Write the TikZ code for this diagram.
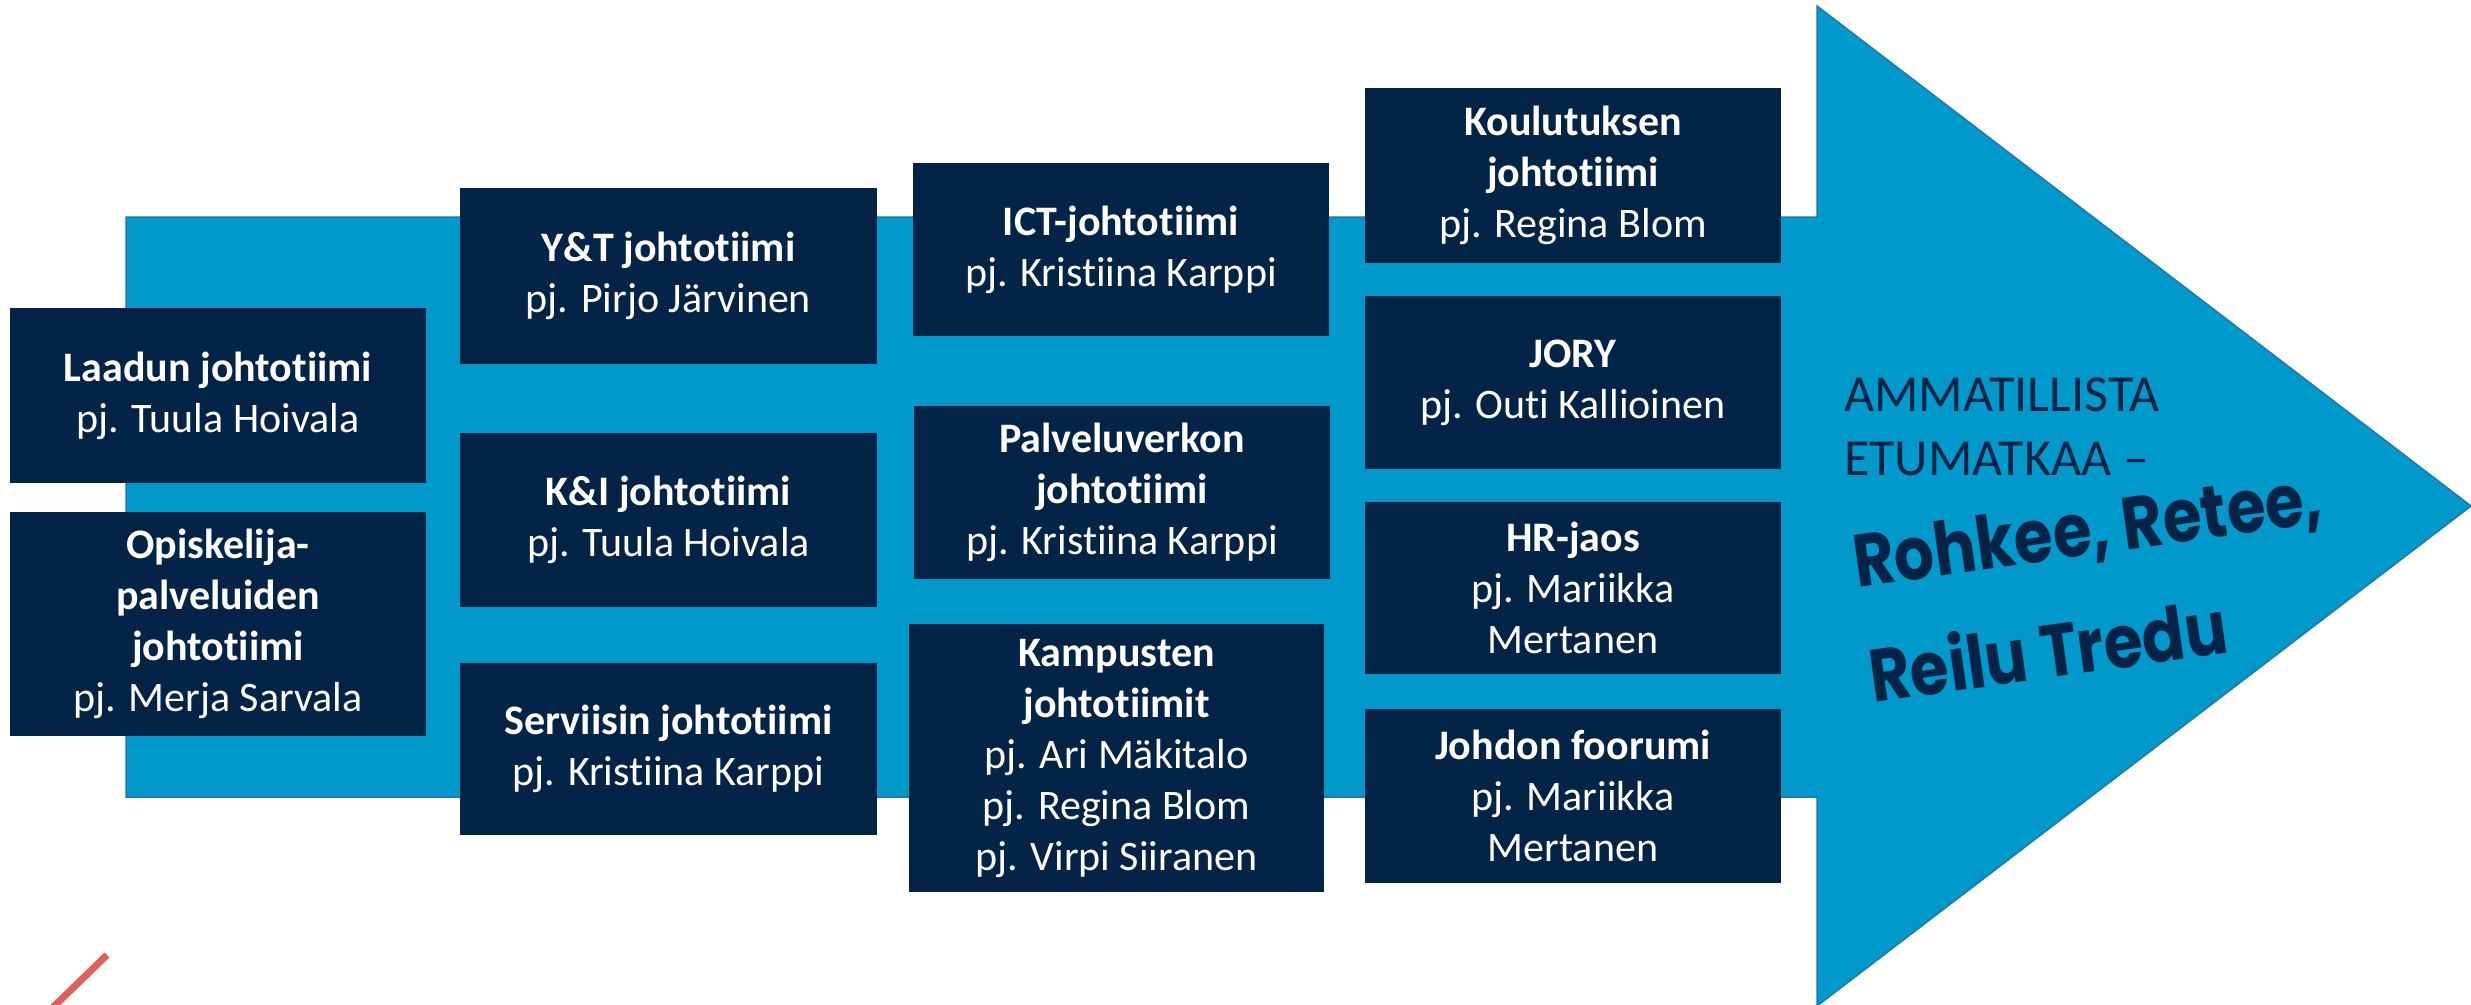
\documentclass[tikz,border=0pt]{standalone}
\usepackage{fontspec}
\setmainfont{Carlito}[Ligatures=CommonOff]
\newfontfamily\handfont{Poppins}[FakeStretch=0.85]
\definecolor{navy}{RGB}{3,36,70}
\definecolor{arrowblue}{RGB}{0,153,204}
\definecolor{arrowedge}{RGB}{30,120,170}
\definecolor{redline}{RGB}{222,98,90}
\tikzset{
  teambox/.style={fill=navy, text=white, align=center, inner sep=0pt,
    font=\fontsize{42}{51}\selectfont},
  slogan/.style={text=navy, inner sep=0pt, font=\fontsize{52}{64}\selectfont},
  handtext/.style={text=navy, inner sep=0pt, rotate=8, font=\handfont\bfseries\fontsize{74}{80}\selectfont}
}
\begin{document}
\begin{tikzpicture}[x=1pt,y=-1pt]
\useasboundingbox (0,0) rectangle (2471,1004);
\begin{scope}
\clip (0,0) rectangle (2471,1004);
% big arrow
\draw[fill=arrowblue, draw=arrowedge, line width=1.5pt]
  (126,217) -- (1817,217) -- (1817,6) -- (2471,506) -- (1817,1006) -- (1817,797) -- (126,797) -- cycle;
% red stroke
\coordinate (r1) at (107,955);
\coordinate (r2) at (45,1015);
\draw[redline, line width=7pt] (r1) -- (r2);
\end{scope}
% column 1
\node[teambox, minimum width=416pt, minimum height=175pt] (laadun) at (218,395.5)
  {\textbf{Laadun johtotiimi}\\pj. Tuula Hoivala};
\node[teambox, minimum width=416pt, minimum height=224pt] (opisk) at (218,624)
  {\textbf{Opiskelija-}\\\textbf{palveluiden}\\\textbf{johtotiimi}\\pj. Merja Sarvala};
% column 2
\node[teambox, minimum width=417pt, minimum height=176pt] (yt) at (668.5,276)
  {\textbf{Y\&T johtotiimi}\\pj. Pirjo Järvinen};
\node[teambox, minimum width=417pt, minimum height=174pt] (ki) at (668.5,520)
  {\textbf{K\&I johtotiimi}\\pj. Tuula Hoivala};
\node[teambox, minimum width=417pt, minimum height=172pt] (serv) at (668.5,749)
  {\textbf{Serviisin johtotiimi}\\pj. Kristiina Karppi};
% column 3
\node[teambox, minimum width=416pt, minimum height=173pt] (ict) at (1121,249.5)
  {\textbf{ICT-johtotiimi}\\pj. Kristiina Karppi};
\node[teambox, minimum width=416pt, minimum height=173pt] (palv) at (1122,492.5)
  {\textbf{Palveluverkon}\\\textbf{johtotiimi}\\pj. Kristiina Karppi};
\node[teambox, minimum width=415pt, minimum height=268pt] (kamp) at (1116.5,758)
  {\textbf{Kampusten}\\\textbf{johtotiimit}\\pj. Ari Mäkitalo\\pj. Regina Blom\\pj. Virpi Siiranen};
% column 4
\node[teambox, minimum width=416pt, minimum height=175pt] (koul) at (1573,175.5)
  {\textbf{Koulutuksen}\\\textbf{johtotiimi}\\pj. Regina Blom};
\node[teambox, minimum width=416pt, minimum height=173pt] (jory) at (1573,382.5)
  {\textbf{JORY}\\pj. Outi Kallioinen};
\node[teambox, minimum width=416pt, minimum height=172pt] (hr) at (1573,588)
  {\textbf{HR-jaos}\\pj. Mariikka\\Mertanen};
\node[teambox, minimum width=416pt, minimum height=174pt] (johdon) at (1573,796)
  {\textbf{Johdon foorumi}\\pj. Mariikka\\Mertanen};
% slogan
\node[slogan, anchor=base west] (s1) at (1844,411) {AMMATILLISTA};
\node[slogan, anchor=base west] (s2) at (1844,475) {ETUMATKAA –};
\node[handtext, anchor=base west] (h1) at (1857,588) {Rohkee, Retee,};
\node[handtext, anchor=base west] (h2) at (1873,703) {Reilu Tredu};
\end{tikzpicture}
\end{document}
